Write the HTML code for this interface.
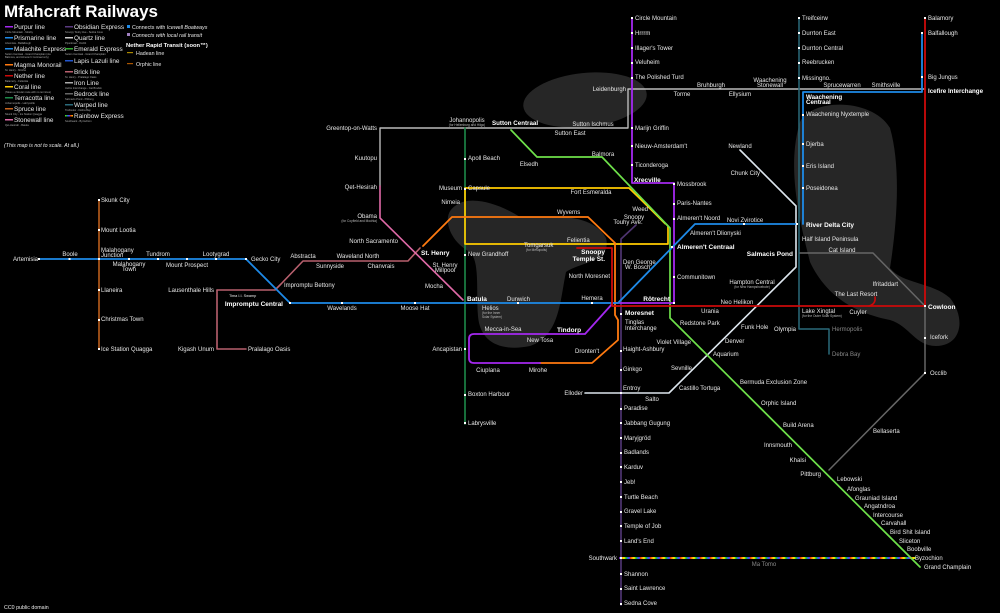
<!DOCTYPE html>
<html><head><meta charset="utf-8"><style>
html,body{margin:0;padding:0;background:#000;}
svg{display:block;}
text{font-family:"Liberation Sans",sans-serif;fill:#e8e8e8;font-size:6px;}
.b{font-weight:bold;font-size:6.5px;fill:#fff;}
.s{font-size:3.2px;fill:#bbb;}
.e{text-anchor:end;}
.m{text-anchor:middle;}
.g{fill:#888;}
.lg{font-size:6.4px;}
.ls{font-size:2.6px;fill:#aaa;}
</style></head><body>
<svg width="1000" height="613" viewBox="0 0 1000 613" xmlns="http://www.w3.org/2000/svg">
<defs>
<linearGradient id="rb" x1="0" x2="10" y1="0" y2="0" gradientUnits="userSpaceOnUse" spreadMethod="repeat">
<stop offset="0" stop-color="#e02020"/><stop offset="0.2" stop-color="#ff9900"/><stop offset="0.4" stop-color="#ffee00"/><stop offset="0.6" stop-color="#22cc22"/><stop offset="0.8" stop-color="#2266ff"/><stop offset="1" stop-color="#9922cc"/>
</linearGradient>
</defs>
<rect width="1000" height="613" fill="#000"/>
<g fill="#262626">
<ellipse cx="585" cy="100" rx="62" ry="27" transform="rotate(-6 585 100)"/>
<path d="M455,206 C470,194 500,204 520,217 C560,216 592,214 606,238 C612,262 580,262 566,272 C560,300 560,336 530,346 C500,352 480,342 478,316 C476,290 480,262 470,252 C450,242 440,216 455,206 Z"/>
<path d="M800,122 C812,98 872,98 890,128 C902,170 896,230 890,268 C902,284 932,282 950,298 C966,318 962,346 936,346 C915,346 910,326 890,320 C860,314 828,300 810,262 C800,222 786,168 800,122 Z"/>
</g>
<g fill="none" stroke-linejoin="round" stroke-linecap="round">
<path d="M99,200 V349" stroke="#c8641e" stroke-width="1.5"/>
<path d="M217,290 H275 L281,284 L303,261 H408 L420,248" stroke="#b8606e" stroke-width="1.6"/>
<path d="M217,290 V349 H246" stroke="#b8606e" stroke-width="1.6"/>
<path d="M380,186 V128 H628 V89 H925" stroke="#bbbbbb" stroke-width="1.4"/>
<path d="M380,186 V218 L463,300" stroke="#e06aa8" stroke-width="1.6"/>
<path d="M465,128 V424" stroke="#1d8a4a" stroke-width="1.6"/>
<path d="M799,18 V329 H829 V354" stroke="#2a6a7a" stroke-width="1.5"/>
<path d="M800,253 H873 L925,306 V373 L829,470" stroke="#666" stroke-width="1.5"/>
<path d="M740,150 L796,206 V267 L669,393 H585" stroke="#dde6ee" stroke-width="1.6"/>
<path d="M636,225 L621,239 V605" stroke="#4e3470" stroke-width="1.7"/>
<path d="M620,558 H915" stroke="url(#rb)" stroke-width="2"/>
<path d="M465,188 H629 L668,226 V244 H465 Z" stroke="#ffcc00" stroke-width="1.7"/>
<path d="M631,190 L665,224" stroke="#ffcc00" stroke-width="1"/>
<path d="M511,130 L537,157 H602 L670,228 V318 L920,567" stroke="#6ee04a" stroke-width="1.7"/>
<path d="M423,246 L452,217 H588 L615,243 V315 L618,320 V340 L592,363 H540" stroke="#ff7a10" stroke-width="1.8"/>
<path d="M632,18 V183 H674 V303 H613 L585,334 H474 Q469,334 469,339 V358 Q469,363 474,363 H540" stroke="#a428f0" stroke-width="1.8"/>
<path d="M40,259 H246 L290,303 H618 L695,224 H797" stroke="#1e8ae8" stroke-width="1.8"/>
<path d="M803,224 V92 H922 V33" stroke="#1e8ae8" stroke-width="1.8"/>
<path d="M577,248 H612 V306 H925 V18" stroke="#cc0a0a" stroke-width="1.8"/>
<path d="M875,297 Q876,304 869,306" stroke="#cc0a0a" stroke-width="1.6"/>
</g>
<g fill="#fff">
<rect x="68.5" y="258" width="2" height="2"/><rect x="98" y="258" width="2" height="2"/><rect x="128" y="258" width="2" height="2"/><rect x="157" y="258" width="2" height="2"/><rect x="186" y="258" width="2" height="2"/><rect x="215" y="258" width="2" height="2"/><rect x="245" y="258" width="2" height="2"/><rect x="38" y="258" width="2" height="2"/>
<rect x="341" y="302" width="2" height="2"/><rect x="414" y="302" width="2" height="2"/><rect x="289" y="302" width="2" height="2"/><rect x="517" y="302" width="2" height="2"/><rect x="591" y="302" width="2" height="2"/>
<rect x="673" y="302" width="2" height="2"/><rect x="671" y="246" width="2" height="2"/><rect x="743" y="223" width="2" height="2"/><rect x="796" y="223" width="2" height="2"/>
<rect x="631" y="17" width="2" height="2"/><rect x="631" y="32" width="2" height="2"/><rect x="631" y="47" width="2" height="2"/><rect x="631" y="62" width="2" height="2"/><rect x="631" y="77" width="2" height="2"/><rect x="631" y="127" width="2" height="2"/><rect x="631" y="145" width="2" height="2"/><rect x="631" y="164" width="2" height="2"/>
<rect x="673" y="183" width="2" height="2"/><rect x="673" y="203" width="2" height="2"/><rect x="673" y="218" width="2" height="2"/><rect x="673" y="276" width="2" height="2"/>
<rect x="798" y="17" width="2" height="2"/><rect x="798" y="32" width="2" height="2"/><rect x="798" y="47" width="2" height="2"/><rect x="798" y="62" width="2" height="2"/><rect x="798" y="77" width="2" height="2"/>
<rect x="802" y="114" width="2" height="2"/><rect x="802" y="143" width="2" height="2"/><rect x="802" y="165" width="2" height="2"/><rect x="802" y="187" width="2" height="2"/>
<rect x="924" y="17" width="2" height="2"/><rect x="921" y="32" width="2" height="2"/><rect x="921" y="76" width="2" height="2"/><rect x="924" y="305" width="2" height="2"/><rect x="924" y="337" width="2" height="2"/><rect x="924" y="372" width="2" height="2"/>
<rect x="620" y="313" width="2" height="2"/><rect x="620" y="350" width="2" height="2"/><rect x="620" y="369" width="2" height="2"/><rect x="620" y="392" width="2" height="2"/><rect x="620" y="408" width="2" height="2"/><rect x="620" y="422" width="2" height="2"/><rect x="620" y="437" width="2" height="2"/><rect x="620" y="452" width="2" height="2"/><rect x="620" y="466" width="2" height="2"/><rect x="620" y="481" width="2" height="2"/><rect x="620" y="496" width="2" height="2"/><rect x="620" y="511" width="2" height="2"/><rect x="620" y="525" width="2" height="2"/><rect x="620" y="540" width="2" height="2"/><rect x="620" y="557" width="2" height="2"/><rect x="620" y="573" width="2" height="2"/><rect x="620" y="588" width="2" height="2"/><rect x="620" y="603" width="2" height="2"/>
<rect x="464" y="158" width="2" height="2"/><rect x="464" y="188" width="2" height="2"/><rect x="464" y="254" width="2" height="2"/><rect x="464" y="348" width="2" height="2"/><rect x="464" y="394" width="2" height="2"/><rect x="464" y="422" width="2" height="2"/>
<rect x="98" y="199" width="2" height="2"/><rect x="98" y="229" width="2" height="2"/><rect x="98" y="289" width="2" height="2"/><rect x="98" y="319" width="2" height="2"/><rect x="98" y="348" width="2" height="2"/>
</g>
<text x="4" y="17" style="font-size:17px;font-weight:bold;fill:#fff">Mfahcraft Railways</text>
<g>
<rect x="5" y="26" width="8" height="1.5" fill="#a428f0"/><text x="14" y="29" class="lg">Purpur line</text><text x="5" y="33" class="ls">Circle Mountain - Mosby</text>
<rect x="5" y="37" width="8" height="1.5" fill="#1e8ae8"/><text x="14" y="40" class="lg">Prismarine line</text><text x="5" y="44" class="ls">Artemisia - Balfallough</text>
<rect x="5" y="48" width="8" height="1.5" fill="#1e8ae8"/><text x="14" y="51" class="lg">Malachite Express</text><text x="5" y="55" class="ls">Sutton Centraal - Grand Champlain (via</text><text x="5" y="58" class="ls">Balmora, and Almeren't Centraal only)</text>
<rect x="5" y="64" width="8" height="1.5" fill="#ff7a10"/><text x="14" y="67" class="lg">Magma Monorail</text><text x="5" y="71" class="ls">St. Henry - Mirohe</text>
<rect x="5" y="75" width="8" height="1.5" fill="#cc0a0a"/><text x="14" y="78" class="lg">Nether line</text><text x="5" y="82" class="ls">Balamory - Felientia</text>
<rect x="5" y="86" width="8" height="1.5" fill="#ffcc00"/><text x="14" y="89" class="lg">Coral line</text><text x="5" y="93" class="ls">(Takes a circular route with no terminus)</text>
<rect x="5" y="97" width="8" height="1.5" fill="#1d8a4a"/><text x="14" y="100" class="lg">Terracotta line</text><text x="5" y="104" class="ls">Johannopolis - Labrysville</text>
<rect x="5" y="108" width="8" height="1.5" fill="#c8641e"/><text x="14" y="111" class="lg">Spruce line</text><text x="5" y="115" class="ls">Skunk City - Ice Station Quagga</text>
<rect x="5" y="119" width="8" height="1.5" fill="#e06aa8"/><text x="14" y="122" class="lg">Stonewall line</text><text x="5" y="126" class="ls">Qet-Hesirah - Batula</text>
<rect x="65" y="26" width="8" height="1.5" fill="#5a3a80"/><text x="74" y="29" class="lg">Obsidian Express</text><text x="65" y="33" class="ls">Snoopy Touhy Ave - Sedna Cove</text>
<rect x="65" y="37" width="8" height="1.5" fill="#ccc"/><text x="74" y="40" class="lg">Quartz line</text><text x="65" y="44" class="ls">Piperkraal - Occlib</text>
<rect x="65" y="48" width="8" height="1.5" fill="#33aa33"/><text x="74" y="51" class="lg">Emerald Express</text><text x="65" y="55" class="ls">Sutton Centraal - Grand Champlain</text>
<rect x="65" y="60" width="8" height="1.5" fill="#2255cc"/><text x="74" y="63" class="lg">Lapis Lazuli line</text>
<rect x="65" y="71" width="8" height="1.5" fill="#b8606e"/><text x="74" y="74" class="lg">Brick line</text><text x="65" y="78" class="ls">St. Henry - Pralalago Oasis</text>
<rect x="65" y="82" width="8" height="1.5" fill="#aaa"/><text x="74" y="85" class="lg">Iron Line</text><text x="65" y="89" class="ls">Icefire Interchange - Cat Brodsk</text>
<rect x="65" y="93" width="8" height="1.5" fill="#666"/><text x="74" y="96" class="lg">Bedrock line</text><text x="65" y="100" class="ls">Salmacis Pond - Pittburg</text>
<rect x="65" y="104" width="8" height="1.5" fill="#2a6a7a"/><text x="74" y="107" class="lg">Warped line</text><text x="65" y="111" class="ls">Treifceirw - Debra Bay</text>
<rect x="65" y="115" width="8" height="1.5" fill="url(#rb)"/><text x="74" y="118" class="lg">Rainbow Express</text><text x="65" y="122" class="ls">Southwark - Byzochion</text>
<rect x="127" y="25" width="3" height="3" fill="#1e8ae8"/><text x="132" y="29" style="font-size:5.3px">Connects with <tspan font-style="italic">Icewell Boatways</tspan></text>
<rect x="127" y="33" width="3" height="3" fill="#a080c0"/><text x="132" y="37" style="font-size:5.3px;font-style:italic">Connects with local rail transit</text>
<text x="126" y="47" style="font-size:5.8px;font-weight:bold;fill:#fff">Nether Rapid Transit (soon™)</text>
<rect x="127" y="52" width="6" height="1.2" fill="#aa8800"/><text x="136" y="55" style="font-size:5.3px">Hadean line</text>
<rect x="127" y="63" width="6" height="1.2" fill="#aa5500"/><text x="136" y="66" style="font-size:5.3px">Orphic line</text>
<text x="4" y="147" style="font-size:5.3px;font-style:italic">(This map is not to scale. At all.)</text>
<text x="4" y="609" style="font-size:5.3px">CC0 public domain</text>
</g>
<text x="38" y="261" class="e">Artemisia</text>
<text x="70" y="256" class="m">Boole</text>
<text x="101" y="252">Malahogany</text><text x="101" y="257">Junction</text>
<text x="129" y="266" class="m">Malahogany</text><text x="129" y="271" class="m">Town</text>
<text x="158" y="256" class="m">Tundrom</text>
<text x="187" y="267" class="m">Mount Prospect</text>
<text x="216" y="256" class="m">Lootygrad</text>
<text x="251" y="261">Gecko City</text>
<text x="101" y="202">Skunk City</text>
<text x="101" y="232">Mount Lootia</text>
<text x="101" y="292">Llaneira</text>
<text x="101" y="321">Christmas Town</text>
<text x="101" y="351">Ice Station Quagga</text>
<text x="214" y="292" class="e">Lausenthale Hills</text>
<text x="229" y="297" style="font-size:3.8px">Tima I.I. Swamp</text>
<text x="284" y="287">Impromptu Bettony</text>
<text x="283" y="306" class="e b">Impromptu Central</text>
<text x="342" y="310" class="m">Wavelands</text>
<text x="415" y="310" class="m">Moose Hat</text>
<text x="214" y="351" class="e">Kigash Unum</text>
<text x="248" y="351">Pralalago Oasis</text>
<text x="303" y="258" class="m">Abstracta</text>
<text x="330" y="268" class="m">Sunnyside</text>
<text x="358" y="258" class="m">Waveland North</text>
<text x="381" y="268" class="m">Chanvrais</text>
<text x="377" y="130" class="e">Greentop-on-Watts</text>
<text x="377" y="160" class="e">Kuutopu</text>
<text x="377" y="189" class="e">Qet-Hesirah</text>
<text x="377" y="218" class="e">Obama</text><text x="377" y="222" class="e s">(for Coyfield and Mochia)</text>
<text x="398" y="243" class="e">North Sacramento</text>
<text x="421" y="255" class="b">St. Henry</text>
<text x="445" y="267" class="m">St. Henry</text><text x="445" y="272" class="m">Millpool</text>
<text x="443" y="288" class="e">Mocha</text>
<text x="467" y="301" class="b">Batula</text>
<text x="507" y="301">Dunwich</text>
<text x="592" y="300" class="m">Hemera</text>
<text x="482" y="310">Helios</text><text x="482" y="314" class="s">(for the Inner</text><text x="482" y="318" class="s">Solar System)</text>
<text x="467" y="122" class="m">Johannopolis</text><text x="467" y="126" class="m s">(for Hellenburg and Hilgo)</text>
<text x="468" y="160">Apoll Beach</text>
<text x="468" y="190">Capsule</text>
<text x="468" y="256">New Grandhoff</text>
<text x="462" y="351" class="e">Ancapistan</text>
<text x="468" y="396">Boxton Harbour</text>
<text x="468" y="425">Labrysville</text>
<text x="492" y="125" class="b" style="font-size:6.2px">Sutton Centraal</text>
<text x="570" y="135" class="m">Sutton East</text>
<text x="593" y="126" class="m">Sutton Ischmus</text>
<text x="529" y="166" class="m">Elsedh</text>
<text x="603" y="156" class="m">Balmora</text>
<text x="462" y="190" class="e">Museum</text>
<text x="591" y="194" class="m">Fort Esmeralda</text>
<text x="460" y="204" class="e">Nimeia</text>
<text x="557" y="214">Wyverns</text>
<text x="648" y="211" class="e">Weed</text>
<text x="634" y="219" class="m">Snoopy</text><text x="628" y="224" class="m">Touhy Ave.</text>
<text x="567" y="242">Felientia</text>
<text x="524" y="247">Tomgarsuk</text><text x="526" y="251" class="s">(for Mesopolis)</text>
<text x="605" y="254" class="e b">Snoopy</text><text x="605" y="261" class="e b">Temple St.</text>
<text x="610" y="278" class="e">North Moresnet</text>
<text x="623" y="264">Den George</text><text x="625" y="269">W. Bosch</text>
<text x="677" y="279">Communitown</text>
<text x="670" y="301" class="e b">Rötrecht</text>
<text x="677" y="249" class="b">Almeren't Centraal</text>
<text x="690" y="235">Almeren't Dlionyski</text>
<text x="677" y="220">Almeren't Noord</text>
<text x="677" y="205">Paris-Nantes</text>
<text x="677" y="186">Mossbrook</text>
<text x="634" y="182" class="b">Xrecville</text>
<text x="635" y="167">Ticonderoga</text>
<text x="635" y="148">Nieuw-Amsterdam't</text>
<text x="635" y="130">Marijn Griffin</text>
<text x="635" y="79">The Polished Turd</text>
<text x="635" y="64">Veluheim</text>
<text x="635" y="50">Illager's Tower</text>
<text x="635" y="35">Hrrrm</text>
<text x="635" y="20">Circle Mountain</text>
<text x="626" y="91" class="e">Leidenburgh</text>
<text x="682" y="96" class="m">Torme</text>
<text x="711" y="87" class="m">Bruhburgh</text>
<text x="740" y="96" class="m">Ellysium</text>
<text x="770" y="82" class="m">Waachening</text><text x="770" y="87" class="m">Stonewall</text>
<text x="802" y="80">Missingno.</text>
<text x="842" y="87" class="m">Sprucewarren</text>
<text x="886" y="87" class="m">Smithsville</text>
<text x="928" y="93" class="b" style="font-size:6.2px">Icefire Interchange</text>
<text x="928" y="20">Balamory</text>
<text x="928" y="35">Balfallough</text>
<text x="928" y="79">Big Jungus</text>
<text x="802" y="20">Treifceirw</text>
<text x="802" y="35">Durrton East</text>
<text x="802" y="50">Durrton Central</text>
<text x="802" y="64">Reebrucken</text>
<text x="806" y="99" class="b" style="font-size:6.2px">Waachening</text><text x="806" y="104" class="b" style="font-size:6.2px">Centraal</text>
<text x="806" y="116">Waachening Nyxtemple</text>
<text x="806" y="146">Djerba</text>
<text x="806" y="168">Eris Island</text>
<text x="806" y="190">Poseidonea</text>
<text x="806" y="227" class="b">River Delta City</text>
<text x="802" y="241">Half Island Peninsula</text>
<text x="793" y="256" class="e b">Salmacis Pond</text>
<text x="842" y="252" class="m">Cat Island</text>
<text x="898" y="286" class="e">Ifritaddart</text>
<text x="856" y="296" class="m">The Last Resort</text>
<text x="928" y="309" class="b">Cowloon</text>
<text x="930" y="339">Icefork</text>
<text x="930" y="375">Occlib</text>
<text x="873" y="433">Bellaserta</text>
<text x="740" y="148" class="m">Newland</text>
<text x="760" y="175" class="e">Chunk City</text>
<text x="745" y="222" class="m">Novi Zvirotice</text>
<text x="752" y="284" class="m">Hampton Central</text><text x="752" y="288" class="m s">(for New Hampshoebote)</text>
<text x="737" y="304" class="m">Neo Helikon</text>
<text x="710" y="313" class="m">Urania</text>
<text x="802" y="313">Lake Xingtal</text><text x="802" y="317" class="s">(for the Outer Solar System)</text>
<text x="858" y="314" class="m">Cuyler</text>
<text x="796" y="331" class="e">Olympia</text>
<text x="832" y="331" class="g">Hermopolis</text>
<text x="832" y="356" class="g">Debra Bay</text>
<text x="625" y="315" class="b">Moresnet</text>
<text x="625" y="324">Tinglas</text><text x="625" y="330">Interchange</text>
<text x="623" y="351">Haight-Ashbury</text>
<text x="623" y="371">Ginkgo</text>
<text x="623" y="390">Entroy</text>
<text x="652" y="401" class="m">Salto</text>
<text x="583" y="395" class="e">Elloder</text>
<text x="624" y="410">Paradise</text>
<text x="624" y="425">Jabbang Gugung</text>
<text x="624" y="440">Maryjgröd</text>
<text x="624" y="454">Badlands</text>
<text x="624" y="469">Karduv</text>
<text x="624" y="484">Jeb!</text>
<text x="624" y="499">Turtle Beach</text>
<text x="624" y="513">Gravel Lake</text>
<text x="624" y="528">Temple of Job</text>
<text x="624" y="543">Land's End</text>
<text x="617" y="560" class="e">Southwark</text>
<text x="624" y="576">Shannon</text>
<text x="624" y="590">Saint Lawrence</text>
<text x="624" y="605">Sedna Cove</text>
<text x="764" y="566" class="m g">Ma Tomo</text>
<text x="503" y="331" class="m">Mecca-in-Sea</text>
<text x="540" y="342" class="m">New Tosa</text>
<text x="557" y="332" class="b">Tindorp</text>
<text x="488" y="372" class="m">Ciuplana</text>
<text x="538" y="372" class="m">Mirohe</text>
<text x="575" y="353">Dronten't</text>
<text x="680" y="325">Redstone Park</text>
<text x="691" y="344" class="e">Violet Village</text>
<text x="713" y="356">Aquarium</text>
<text x="692" y="370" class="e">Sevnille</text>
<text x="679" y="390">Castillo Tortuga</text>
<text x="741" y="329">Funk Hole</text>
<text x="725" y="343">Denver</text>
<text x="740" y="384">Bermuda Exclusion Zone</text>
<text x="761" y="405">Orphic Island</text>
<text x="783" y="427">Build Arena</text>
<text x="792" y="447" class="e">Innsmouth</text>
<text x="806" y="462" class="e">Khalsi</text>
<text x="821" y="476" class="e">Pittburg</text>
<text x="837" y="481">Lebowski</text>
<text x="847" y="491">Afonglas</text>
<text x="855" y="500">Grauniad Island</text>
<text x="864" y="508">Angatndroa</text>
<text x="873" y="517">Intercourse</text>
<text x="881" y="525">Carvahall</text>
<text x="890" y="534">Bird Shit Island</text>
<text x="899" y="543">Sliceton</text>
<text x="907" y="551">Boobville</text>
<text x="915" y="560">Byzochion</text>
<text x="924" y="569">Grand Champlain</text>
</svg>
</body></html>
